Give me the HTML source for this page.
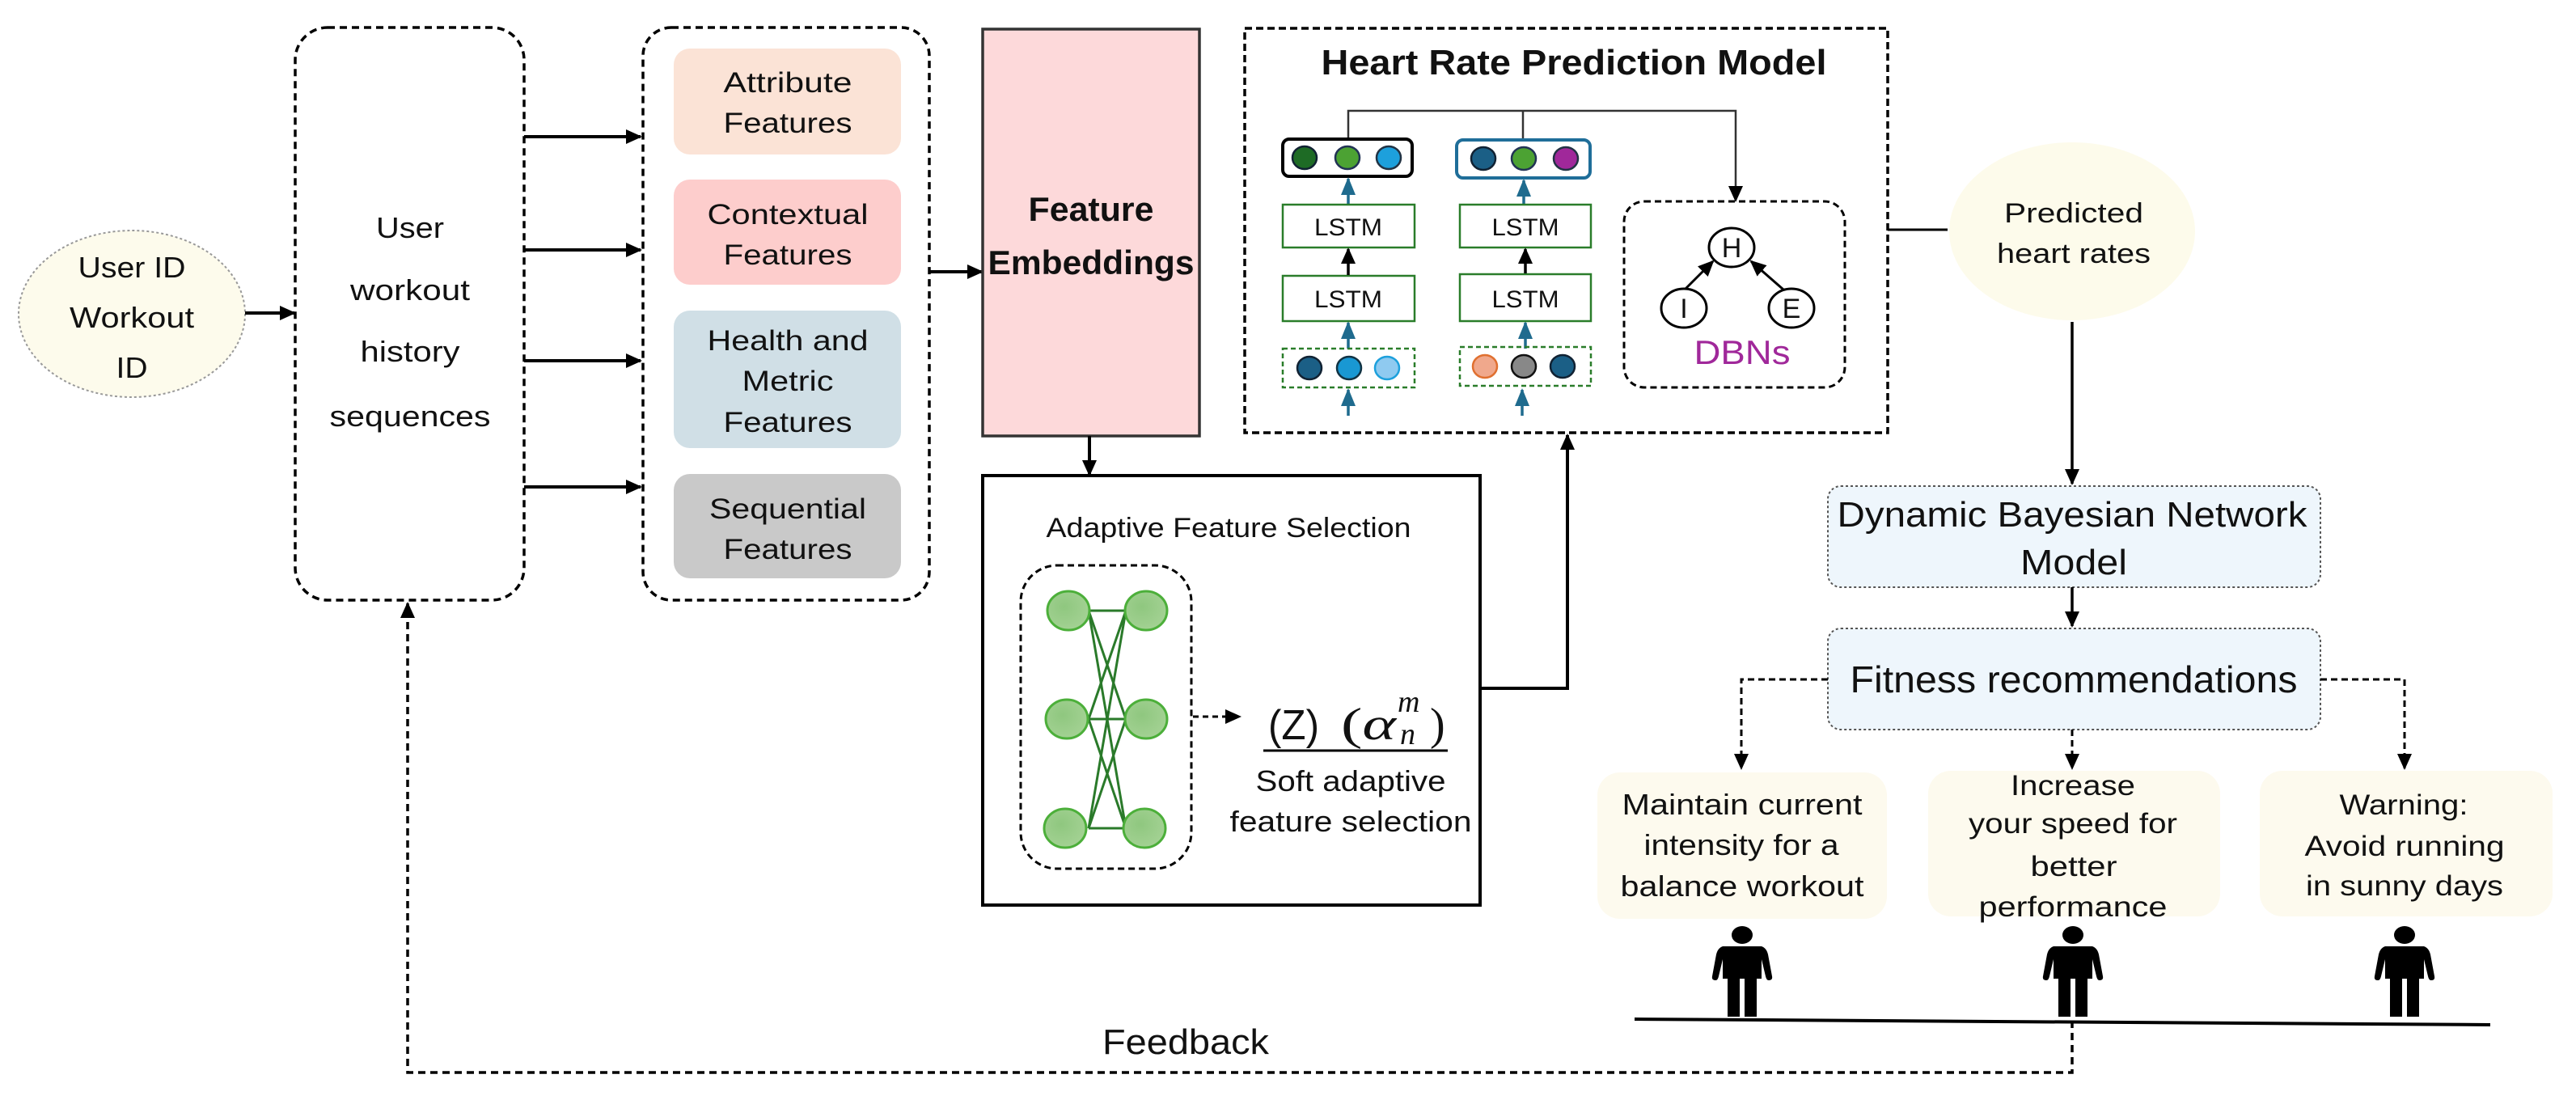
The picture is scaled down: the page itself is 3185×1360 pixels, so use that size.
<!DOCTYPE html>
<html><head><meta charset="utf-8"><style>
html,body{margin:0;padding:0;background:#fff;}
svg{display:block;}
text{font-family:"Liberation Sans Narrow","Liberation Sans",sans-serif;fill:#111;}
.w{font-family:"Liberation Sans",sans-serif;}
</style></head><body>
<svg width="3185" height="1360" viewBox="0 0 3185 1360" xmlns="http://www.w3.org/2000/svg">
<defs>
<marker id="ahb" markerWidth="20" markerHeight="20" refX="18" refY="10" orient="auto" markerUnits="userSpaceOnUse" viewBox="0 0 20 20"><path d="M0,1 L20,10 L0,19z" fill="#000"/></marker>
<marker id="ahl" markerWidth="22" markerHeight="22" refX="20" refY="11" orient="auto" markerUnits="userSpaceOnUse" viewBox="0 0 22 22"><path d="M0,2 L22,11 L0,20z" fill="#1f6b8e"/></marker>
<radialGradient id="gn" cx="0.4" cy="0.4" r="0.7"><stop offset="0" stop-color="#8fc77f"/><stop offset="1" stop-color="#a6d396"/></radialGradient>
</defs>

<ellipse cx="163" cy="388" rx="140" ry="103" fill="#fdfbec" stroke="#999" stroke-width="2" stroke-dasharray="3 3"/>
<text x="163" y="343" font-size="36" text-anchor="middle" textLength="133" lengthAdjust="spacingAndGlyphs">User ID</text>
<text x="163" y="405" font-size="36" text-anchor="middle" textLength="154" lengthAdjust="spacingAndGlyphs">Workout</text>
<text x="163" y="467" font-size="36" text-anchor="middle" textLength="39" lengthAdjust="spacingAndGlyphs">ID</text>
<line x1="303" y1="387" x2="364" y2="387" stroke="#000" stroke-width="4" marker-end="url(#ahb)"/>

<rect x="365" y="34" width="283" height="708" rx="40" fill="none" stroke="#000" stroke-width="3.5" stroke-dasharray="9 6"/>
<text x="507" y="294" font-size="36" text-anchor="middle" textLength="84" lengthAdjust="spacingAndGlyphs">User</text>
<text x="507" y="371" font-size="36" text-anchor="middle" textLength="148" lengthAdjust="spacingAndGlyphs">workout</text>
<text x="507" y="447" font-size="36" text-anchor="middle" textLength="123" lengthAdjust="spacingAndGlyphs">history</text>
<text x="507" y="527" font-size="36" text-anchor="middle" textLength="199" lengthAdjust="spacingAndGlyphs">sequences</text>

<g stroke="#000" stroke-width="4">
<line x1="648" y1="169" x2="792" y2="169" marker-end="url(#ahb)"/>
<line x1="648" y1="309" x2="792" y2="309" marker-end="url(#ahb)"/>
<line x1="648" y1="446" x2="792" y2="446" marker-end="url(#ahb)"/>
<line x1="648" y1="602" x2="792" y2="602" marker-end="url(#ahb)"/>
</g>

<rect x="795" y="34" width="354" height="708" rx="35" fill="none" stroke="#000" stroke-width="3.5" stroke-dasharray="9 6"/>
<rect x="833" y="60" width="281" height="131" rx="20" fill="#fbe3d6"/>
<rect x="833" y="222" width="281" height="130" rx="20" fill="#fdcdcc"/>
<rect x="833" y="384" width="281" height="170" rx="20" fill="#d0dfe6"/>
<rect x="833" y="586" width="281" height="129" rx="20" fill="#c9c9c9"/>
<g font-size="35" text-anchor="middle">
<text x="974" y="114" textLength="159" lengthAdjust="spacingAndGlyphs">Attribute</text>
<text x="974" y="164" textLength="159" lengthAdjust="spacingAndGlyphs">Features</text>
<text x="974" y="277" textLength="199" lengthAdjust="spacingAndGlyphs">Contextual</text>
<text x="974" y="327" textLength="159" lengthAdjust="spacingAndGlyphs">Features</text>
<text x="974" y="433" textLength="199" lengthAdjust="spacingAndGlyphs">Health and</text>
<text x="974" y="483" textLength="113" lengthAdjust="spacingAndGlyphs">Metric</text>
<text x="974" y="534" textLength="159" lengthAdjust="spacingAndGlyphs">Features</text>
<text x="974" y="641" textLength="194" lengthAdjust="spacingAndGlyphs">Sequential</text>
<text x="974" y="691" textLength="159" lengthAdjust="spacingAndGlyphs">Features</text>
</g>
<line x1="1149" y1="336" x2="1214" y2="336" stroke="#000" stroke-width="4" marker-end="url(#ahb)"/>

<rect x="1215" y="36" width="268" height="503" fill="#fdd9da" stroke="#333" stroke-width="3.5"/>
<text class="w" x="1349" y="273" font-size="42" font-weight="bold" text-anchor="middle" textLength="155" lengthAdjust="spacingAndGlyphs">Feature</text>
<text class="w" x="1349" y="339" font-size="42" font-weight="bold" text-anchor="middle" textLength="255" lengthAdjust="spacingAndGlyphs">Embeddings</text>
<line x1="1347" y1="539" x2="1347" y2="587" stroke="#000" stroke-width="4" marker-end="url(#ahb)"/>

<rect x="1215" y="588" width="615" height="531" fill="none" stroke="#000" stroke-width="4"/>
<text x="1519" y="664" font-size="34" text-anchor="middle" textLength="451" lengthAdjust="spacingAndGlyphs">Adaptive Feature Selection</text>
<rect x="1262" y="699" width="211" height="375" rx="45" fill="none" stroke="#000" stroke-width="3" stroke-dasharray="8 5"/>
<g stroke="#2a7a2a" stroke-width="3">
<line x1="1346" y1="755" x2="1392" y2="755"/><line x1="1346" y1="889" x2="1392" y2="889"/><line x1="1346" y1="1024" x2="1392" y2="1024"/>
<line x1="1346" y1="755" x2="1392" y2="889"/><line x1="1346" y1="755" x2="1392" y2="1024"/>
<line x1="1346" y1="889" x2="1392" y2="755"/><line x1="1346" y1="889" x2="1392" y2="1024"/>
<line x1="1346" y1="1024" x2="1392" y2="755"/><line x1="1346" y1="1024" x2="1392" y2="889"/>
</g>
<g fill="url(#gn)" stroke="#4caf3a" stroke-width="3">
<ellipse cx="1321" cy="755" rx="26" ry="24"/><ellipse cx="1417" cy="755" rx="26" ry="24"/>
<ellipse cx="1319" cy="889" rx="26" ry="24"/><ellipse cx="1417" cy="889" rx="26" ry="24"/>
<ellipse cx="1317" cy="1024" rx="26" ry="24"/><ellipse cx="1415" cy="1024" rx="26" ry="24"/>
</g>
<line x1="1475" y1="886" x2="1533" y2="886" stroke="#000" stroke-width="3" stroke-dasharray="7 5" marker-end="url(#ahb)"/>
<text x="1568" y="914" font-size="52" class="w" textLength="63" lengthAdjust="spacingAndGlyphs">(Z)</text>
<text x="1658" y="914" font-size="56" style="font-family:'Liberation Serif',serif" textLength="68" lengthAdjust="spacingAndGlyphs">(<tspan font-style="italic">α</tspan></text>
<text x="1728" y="880" font-size="38" font-style="italic" style="font-family:'Liberation Serif',serif">m</text>
<text x="1731" y="920" font-size="38" font-style="italic" style="font-family:'Liberation Serif',serif">n</text>
<text x="1768" y="914" font-size="56" style="font-family:'Liberation Serif',serif">)</text>
<line x1="1562" y1="928" x2="1790" y2="928" stroke="#000" stroke-width="3"/>
<text x="1670" y="978" font-size="36" text-anchor="middle" textLength="235" lengthAdjust="spacingAndGlyphs">Soft adaptive</text>
<text x="1670" y="1028" font-size="36" text-anchor="middle" textLength="299" lengthAdjust="spacingAndGlyphs">feature selection</text>
<polyline points="1830,851 1938,851 1938,538" fill="none" stroke="#000" stroke-width="4" marker-end="url(#ahb)"/>

<rect x="1539" y="35" width="795" height="500" fill="none" stroke="#000" stroke-width="3.5" stroke-dasharray="9 5"/>
<text class="w" x="1946" y="92" font-size="44" font-weight="bold" text-anchor="middle" textLength="625" lengthAdjust="spacingAndGlyphs">Heart Rate Prediction Model</text>
<polyline points="1667,172 1667,137 2146,137 2146,248" fill="none" stroke="#333" stroke-width="2.5" marker-end="url(#ahb)"/>
<line x1="1883" y1="137" x2="1883" y2="173" stroke="#333" stroke-width="2.5"/>
<rect x="1586" y="172" width="160" height="46" rx="8" fill="#fff" stroke="#000" stroke-width="4"/>
<rect x="1801" y="173" width="165" height="47" rx="8" fill="#fff" stroke="#1f6e99" stroke-width="4"/>
<g stroke-width="2.5">
<ellipse cx="1613" cy="195" rx="15" ry="14" fill="#1e6b25" stroke="#123"/>
<ellipse cx="1666" cy="195" rx="15" ry="14" fill="#4ca233" stroke="#235"/>
<ellipse cx="1717" cy="195" rx="15" ry="14" fill="#1da0dc" stroke="#234"/>
<ellipse cx="1834" cy="196" rx="15" ry="14" fill="#1b5f86" stroke="#123"/>
<ellipse cx="1884" cy="196" rx="15" ry="14" fill="#4ca233" stroke="#235"/>
<ellipse cx="1936" cy="196" rx="15" ry="14" fill="#a0289a" stroke="#234"/>
</g>
<g stroke="#1f6b8e" stroke-width="3.5">
<line x1="1667" y1="253" x2="1667" y2="221" marker-end="url(#ahl)"/>
<line x1="1884" y1="253" x2="1884" y2="223" marker-end="url(#ahl)"/>
<line x1="1667" y1="431" x2="1667" y2="399" marker-end="url(#ahl)"/>
<line x1="1886" y1="431" x2="1886" y2="399" marker-end="url(#ahl)"/>
<line x1="1667" y1="514" x2="1667" y2="482" marker-end="url(#ahl)"/>
<line x1="1882" y1="514" x2="1882" y2="482" marker-end="url(#ahl)"/>
</g>
<g fill="#fff" stroke="#2a7d2a" stroke-width="2.5">
<rect x="1586" y="253" width="163" height="53"/><rect x="1805" y="253" width="162" height="53"/>
<rect x="1586" y="341" width="163" height="56"/><rect x="1805" y="339" width="162" height="58"/>
</g>
<g stroke="#000" stroke-width="3.5">
<line x1="1667" y1="340" x2="1667" y2="308" marker-end="url(#ahb)"/>
<line x1="1886" y1="338" x2="1886" y2="308" marker-end="url(#ahb)"/>
</g>
<g font-size="30" text-anchor="middle">
<text x="1667" y="291" textLength="84" lengthAdjust="spacingAndGlyphs">LSTM</text>
<text x="1886" y="291" textLength="83" lengthAdjust="spacingAndGlyphs">LSTM</text>
<text x="1667" y="380" textLength="84" lengthAdjust="spacingAndGlyphs">LSTM</text>
<text x="1886" y="380" textLength="83" lengthAdjust="spacingAndGlyphs">LSTM</text>
</g>
<rect x="1586" y="431" width="163" height="48" fill="none" stroke="#2a7d2a" stroke-width="2.5" stroke-dasharray="6 4"/>
<rect x="1805" y="429" width="162" height="48" fill="none" stroke="#2a7d2a" stroke-width="2.5" stroke-dasharray="6 4"/>
<g stroke-width="2.5">
<ellipse cx="1619" cy="455" rx="15" ry="14" fill="#1b5f86" stroke="#123"/>
<ellipse cx="1668" cy="455" rx="15" ry="14" fill="#1998d3" stroke="#134"/>
<ellipse cx="1715" cy="455" rx="15" ry="14" fill="#8fcaf0" stroke="#1da0dc"/>
<ellipse cx="1836" cy="453" rx="15" ry="14" fill="#f0a88c" stroke="#e07030"/>
<ellipse cx="1884" cy="453" rx="15" ry="14" fill="#888" stroke="#111"/>
<ellipse cx="1932" cy="453" rx="15" ry="14" fill="#1b5f86" stroke="#123"/>
</g>
<rect x="2008" y="249" width="273" height="230" rx="25" fill="none" stroke="#000" stroke-width="3" stroke-dasharray="8 5"/>
<g fill="#fff" stroke="#000" stroke-width="3">
<ellipse cx="2141" cy="306" rx="28" ry="24"/>
<ellipse cx="2082" cy="381" rx="28" ry="24"/>
<ellipse cx="2215" cy="381" rx="28" ry="24"/>
</g>
<g stroke="#000" stroke-width="3">
<line x1="2084" y1="357" x2="2118" y2="323" marker-end="url(#ahb)"/>
<line x1="2205" y1="358" x2="2165" y2="323" marker-end="url(#ahb)"/>
</g>
<g font-size="34" text-anchor="middle">
<text x="2141" y="318">H</text><text x="2082" y="393">I</text><text x="2215" y="393">E</text>
</g>
<text x="2154" y="450" font-size="42" text-anchor="middle" style="fill:#a0289a" textLength="119" lengthAdjust="spacingAndGlyphs">DBNs</text>

<line x1="2334" y1="284" x2="2408" y2="284" stroke="#000" stroke-width="3"/>
<ellipse cx="2562" cy="286" rx="152" ry="110" fill="#fdfbeb"/>
<text class="w" x="2564" y="275" font-size="34" text-anchor="middle" textLength="172" lengthAdjust="spacingAndGlyphs">Predicted</text>
<text class="w" x="2564" y="325" font-size="34" text-anchor="middle" textLength="190" lengthAdjust="spacingAndGlyphs">heart rates</text>
<line x1="2562" y1="398" x2="2562" y2="598" stroke="#000" stroke-width="3.5" marker-end="url(#ahb)"/>

<rect x="2260" y="601" width="609" height="125" rx="16" fill="#eef6fc" stroke="#555" stroke-width="2" stroke-dasharray="3 3"/>
<text class="w" x="2562" y="651" font-size="44" text-anchor="middle" textLength="581" lengthAdjust="spacingAndGlyphs">Dynamic Bayesian Network</text>
<text class="w" x="2564" y="710" font-size="44" text-anchor="middle" textLength="132" lengthAdjust="spacingAndGlyphs">Model</text>
<line x1="2562" y1="726" x2="2562" y2="774" stroke="#000" stroke-width="3.5" marker-end="url(#ahb)"/>
<rect x="2260" y="777" width="609" height="125" rx="16" fill="#eef6fc" stroke="#555" stroke-width="2" stroke-dasharray="3 3"/>
<text class="w" x="2564" y="856" font-size="46" text-anchor="middle" textLength="553" lengthAdjust="spacingAndGlyphs">Fitness recommendations</text>

<g fill="none" stroke="#000" stroke-width="3" stroke-dasharray="8 5">
<polyline points="2260,840 2153,840 2153,950" marker-end="url(#ahb)"/>
<polyline points="2869,840 2973,840 2973,950" marker-end="url(#ahb)"/>
<line x1="2562" y1="902" x2="2562" y2="950" marker-end="url(#ahb)"/>
</g>

<g fill="#fdfaee">
<rect x="1975" y="955" width="358" height="181" rx="28"/>
<rect x="2384" y="953" width="361" height="180" rx="28"/>
<rect x="2794" y="953" width="362" height="180" rx="28"/>
</g>
<g font-size="36" text-anchor="middle">
<text x="2154" y="1007" textLength="297" lengthAdjust="spacingAndGlyphs">Maintain current</text>
<text x="2153" y="1057" textLength="241" lengthAdjust="spacingAndGlyphs">intensity for a</text>
<text x="2154" y="1108" textLength="301" lengthAdjust="spacingAndGlyphs">balance workout</text>
</g>
<g font-size="35" text-anchor="middle">
<text class="w" x="2563" y="983" textLength="154" lengthAdjust="spacingAndGlyphs">Increase</text>
<text class="w" x="2563" y="1030" textLength="258" lengthAdjust="spacingAndGlyphs">your speed for</text>
<text class="w" x="2564" y="1083" textLength="107" lengthAdjust="spacingAndGlyphs">better</text>
<text class="w" x="2563" y="1133" textLength="233" lengthAdjust="spacingAndGlyphs">performance</text>
<text class="w" x="2972" y="1007" textLength="159" lengthAdjust="spacingAndGlyphs">Warning:</text>
<text class="w" x="2973" y="1058" textLength="247" lengthAdjust="spacingAndGlyphs">Avoid running</text>
<text class="w" x="2973" y="1107" textLength="244" lengthAdjust="spacingAndGlyphs">in sunny days</text>
</g>

<g fill="#000">
<g transform="translate(2154,0)">
<ellipse cx="0" cy="1156" rx="13" ry="11"/>
<path d="M-24,1170 L24,1170 Q30,1172 32,1180 L37,1207 Q38,1212 33,1212 Q30,1212 29,1207 L24,1186 L24,1210 L18,1210 L18,1257 L3,1257 L3,1210 L-3,1210 L-3,1257 L-18,1257 L-18,1210 L-24,1210 L-24,1186 L-29,1207 Q-30,1212 -33,1212 Q-38,1212 -37,1207 L-32,1180 Q-30,1172 -24,1170z"/>
</g>
<g transform="translate(2563,0)">
<ellipse cx="0" cy="1156" rx="13" ry="11"/>
<path d="M-24,1170 L24,1170 Q30,1172 32,1180 L37,1207 Q38,1212 33,1212 Q30,1212 29,1207 L24,1186 L24,1210 L18,1210 L18,1257 L3,1257 L3,1210 L-3,1210 L-3,1257 L-18,1257 L-18,1210 L-24,1210 L-24,1186 L-29,1207 Q-30,1212 -33,1212 Q-38,1212 -37,1207 L-32,1180 Q-30,1172 -24,1170z"/>
</g>
<g transform="translate(2973,0)">
<ellipse cx="0" cy="1156" rx="13" ry="11"/>
<path d="M-24,1170 L24,1170 Q30,1172 32,1180 L37,1207 Q38,1212 33,1212 Q30,1212 29,1207 L24,1186 L24,1210 L18,1210 L18,1257 L3,1257 L3,1210 L-3,1210 L-3,1257 L-18,1257 L-18,1210 L-24,1210 L-24,1186 L-29,1207 Q-30,1212 -33,1212 Q-38,1212 -37,1207 L-32,1180 Q-30,1172 -24,1170z"/>
</g>
</g>
<line x1="2021" y1="1260" x2="3079" y2="1267" stroke="#000" stroke-width="4"/>

<polyline points="2562,1262 2562,1326 504,1326 504,746" fill="none" stroke="#000" stroke-width="3.5" stroke-dasharray="9 6" marker-end="url(#ahb)"/>
<text x="1466" y="1303" font-size="44" text-anchor="middle" textLength="206" lengthAdjust="spacingAndGlyphs">Feedback</text>
</svg>
</body></html>
